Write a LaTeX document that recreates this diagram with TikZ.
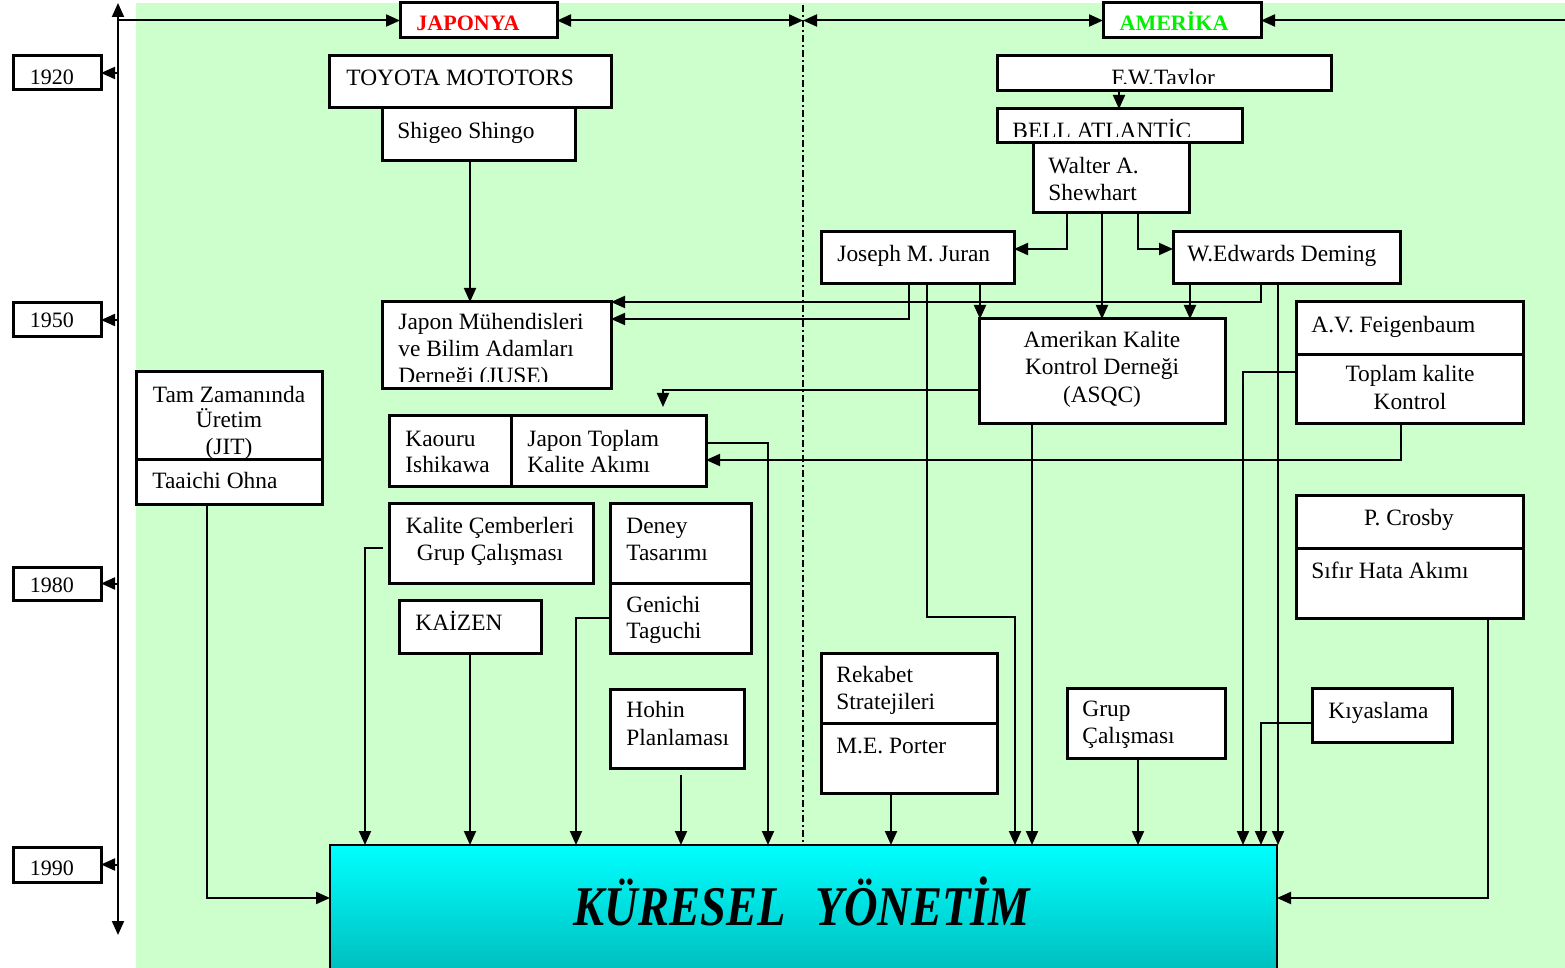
\documentclass[tikz,border=0pt]{standalone}
\usepackage{fontspec}
\setmainfont{Liberation Serif}
\usepackage{graphicx}
\usetikzlibrary{arrows.meta,shadings}
\definecolor{bggreen}{RGB}{204,255,204}
\definecolor{kurtop}{RGB}{0,255,255}
\definecolor{kurbot}{RGB}{0,183,183}
\definecolor{japred}{RGB}{255,0,0}
\definecolor{amgreen}{RGB}{0,240,0}

% a white box given by its corners (x1,y1) and (x2,y2)
\newcommand\tlbox[5]{\node[box, minimum width={(#4-#2)*0.5pt}, minimum height={(#5-#3)*0.5pt}] (#1) at ({(#2+#4)/2},{(#3+#5)/2}) {};}

\begin{document}
\begin{tikzpicture}[x=0.5pt,y=-0.5pt,
  box/.style={draw, fill=white, line width=1.5pt, inner sep=0pt, outer sep=0pt},
  conn/.style={line width=1pt},
  arr/.style={conn, -{Triangle[length=7pt,width=6pt]}},
  dbl/.style={conn, {Triangle[length=7pt,width=6pt]}-{Triangle[length=7pt,width=6pt]}},
  txt/.style={inner sep=0pt, anchor=base west, font=\fontsize{11.7pt}{13.5pt}\selectfont},
  txtc/.style={txt, anchor=base},
  year/.style={inner sep=0pt, anchor=base, font=\fontsize{11pt}{13pt}\selectfont},
  head/.style={inner sep=0pt, anchor=base, font=\fontsize{11pt}{13pt}\selectfont\bfseries},
]
\useasboundingbox (0,0) rectangle (1565,968);
\clip (0,0) rectangle (1565,968);

% background
\fill[bggreen] (136,3) rectangle (1565,968);

% global result box
\node[draw, line width=1.2pt, top color=kurtop, bottom color=kurbot, inner sep=0pt, outer sep=0pt,
      minimum width={947*0.5pt}, minimum height={140*0.5pt}] (kures) at (803.5,915) {};

% boxes
\tlbox{y1920}{13}{56}{101}{90}
\tlbox{y1950}{13}{303}{101}{337}
\tlbox{y1980}{13}{567}{101}{600}
\tlbox{y1990}{13}{847}{101}{882}
\tlbox{japonya}{400}{3}{557}{38}
\tlbox{amerika}{1103}{3}{1261}{38}
\tlbox{toyota}{329}{56}{611}{108}
\tlbox{shigeo}{382}{108}{575}{161}
\tlbox{jmuh}{382}{302}{611}{389}
\tlbox{tam}{136}{372}{322}{460}
\tlbox{taaichi}{136}{460}{322}{504}
\tlbox{kaouru}{389}{416}{511}{486}
\tlbox{jtop}{511}{416}{706}{486}
\tlbox{kalcem}{389}{503}{593}{583}
\tlbox{deney}{610}{503}{751}{583}
\tlbox{genichi}{610}{583}{751}{653}
\tlbox{kaizen}{399}{600}{541}{653}
\tlbox{hohin}{610}{689}{744}{768}
\tlbox{taylor}{997}{56}{1331}{91}
\tlbox{bell}{997}{109}{1242}{143}
\tlbox{shew}{1033}{143}{1189}{213}
\tlbox{juran}{821}{232}{1014}{284}
\tlbox{deming}{1173}{232}{1400}{284}
\tlbox{asqc}{979}{319}{1225}{424}
\tlbox{feig}{1296}{302}{1523}{355}
\tlbox{tkk}{1296}{355}{1523}{424}
\tlbox{crosby}{1296}{495}{1523}{548}
\tlbox{sifir}{1296}{548}{1523}{618}
\tlbox{kiyas}{1312}{688}{1452}{742}
\tlbox{rekabet}{821}{653}{997}{723}
\tlbox{porter}{821}{723}{997}{793}
\tlbox{grup}{1067}{688}{1225}{758}

% time axis and header line
\coordinate (axtop) at (118,3);
\coordinate (axbot) at (118,935);
\coordinate (divtop) at (803,20.5);
\coordinate (divstart) at (803,5);
\coordinate (rightend) at (1565,20.5);
\draw[dbl] (axbot) -- (axtop);
\draw[arr] (axtop |- japonya.west) -- (japonya.west);
\draw[dbl] (japonya.east) -- (divtop);
\draw[dbl] (divtop) -- (amerika.west);
\draw[arr] (rightend) -- (amerika.east);
\draw[line width=1pt, dash pattern=on 3.5pt off 1.5pt on 1pt off 1.5pt] (divstart) -- (divstart |- kures.north);
\foreach \y in {y1920,y1950,y1980,y1990} \draw[arr] (axtop |- \y.east) -- (\y.east);

% connectors
\coordinate (kcout) at (383,548);
\coordinate (hohinout) at (681,775);
\coordinate (asqcdrop) at (663,407);
\draw[arr] (470,0 |- shigeo.south) -- (470,0 |- jmuh.north);
\draw[arr] (1119,0 |- taylor.south) -- (1119,0 |- bell.north);
\draw[arr] (1067,0 |- shew.south) |- (juran.east |- 0,249);
\draw[arr] (1102,0 |- shew.south) -- (1102,0 |- asqc.north);
\draw[arr] (1138,0 |- shew.south) |- (deming.west |- 0,249);
\draw[arr] (909,0 |- juran.south) |- (jmuh.east |- 0,319);
\draw[arr] (927,0 |- juran.south) |- (1015,617) -- (1015,0 |- kures.north);
\draw[arr] (980,0 |- juran.south) -- (980,0 |- asqc.north);
\draw[arr] (1190,0 |- deming.south) -- (1190,0 |- asqc.north);
\draw[arr] (1261,0 |- deming.south) |- (jmuh.north east);
\draw[arr] (1278,0 |- deming.south) -- (1278,0 |- kures.north);
\draw[arr] (asqc.west |- 0,390) -| (asqcdrop);
\draw[arr] (1032,0 |- asqc.south) -- (1032,0 |- kures.north);
\draw[arr] (tkk.west |- 0,372) -| (1243,0 |- kures.north);
\draw[arr] (1401,0 |- tkk.south) |- (jtop.east |- 0,460);
\draw[arr] (jtop.east |- 0,443) -| (768,0 |- kures.north);
\draw[arr] (207,0 |- taaichi.south) |- (kures.west |- 0,898);
\draw[arr] (kcout) -| (365,0 |- kures.north);
\draw[arr] (genichi.west |- 0,618) -| (576,0 |- kures.north);
\draw[arr] (470,0 |- kaizen.south) -- (470,0 |- kures.north);
\draw[arr] (hohinout) -- (hohinout |- kures.north);
\draw[arr] (891,0 |- porter.south) -- (891,0 |- kures.north);
\draw[arr] (1138,0 |- grup.south) -- (1138,0 |- kures.north);
\draw[arr] (1488,0 |- sifir.south) |- (kures.east |- 0,898);
\draw[arr] (kiyas.west |- 0,723) -| (1261,0 |- kures.north);

% year labels
\node[year] (t1920) at (52,85) {1920};
\node[year] (t1950) at (52,328) {1950};
\node[year] (t1980) at (52,592) {1980};
\node[year] (t1990) at (52,875) {1990};

% headers
\node[head, text=japred] (tjap) at (468,31) {JAPONYA};
\node[head, text=amgreen] (tam2) at (1174,31) {AMERİKA};

% Japanese side
\node[txt] (ttoyota) at (346,86) {TOYOTA MOTOTORS};
\node[txt] (tshigeo) at (397,139) {Shigeo Shingo};
\node[txt] (tjmuh1) at (398,330) {Japon Mühendisleri};
\node[txt] (tjmuh2) at (398,357) {ve Bilim Adamları};
\begin{scope}
  \clip (383,360) rectangle (611,382);
  \node[txt] (tjmuh3) at (398,384) {Derneği (JUSE)};
\end{scope}
\node[txtc] (ttam1) at (229,402) {Tam Zamanında};
\node[txtc] (ttam2) at (229,428) {Üretim};
\node[txtc] (ttam3) at (229,454) {(JIT)};
\node[txt] (ttaaichi) at (152,488) {Taaichi Ohna};
\node[txt] (tkaouru1) at (405,446) {Kaouru};
\node[txt] (tkaouru2) at (405,473) {Ishikawa};
\node[txt] (tjtop1) at (527,446) {Japon Toplam};
\node[txt] (tjtop2) at (527,473) {Kalite Akımı};
\node[txtc] (tkalcem1) at (490,533) {Kalite Çemberleri};
\node[txtc] (tkalcem2) at (490,560) {Grup Çalışması};
\node[txt] (tdeney1) at (626,533) {Deney};
\node[txt] (tdeney2) at (626,560) {Tasarımı};
\node[txt] (tgenichi1) at (626,612) {Genichi};
\node[txt] (tgenichi2) at (626,638) {Taguchi};
\node[txt] (tkaizen) at (415,630) {KAİZEN};
\node[txt] (thohin1) at (626,717) {Hohin};
\node[txt] (thohin2) at (626,745) {Planlaması};

% American side
\begin{scope}
  \clip (998,57) rectangle (1330,84);
  \node[txtc] (ttaylor) at (1163,86) {F.W.Taylor};
\end{scope}
\begin{scope}
  \clip (998,110) rectangle (1241,136.5);
  \node[txt] (tbell) at (1012,139) {BELL ATLANTİC};
\end{scope}
\node[txt] (tshew1) at (1048,174) {Walter A.};
\node[txt] (tshew2) at (1048,201) {Shewhart};
\node[txt] (tjuran) at (837,262) {Joseph M. Juran};
\node[txt] (tdeming) at (1187,262) {W.Edwards Deming};
\node[txtc] (tasqc1) at (1102,348) {Amerikan Kalite};
\node[txtc] (tasqc2) at (1102,375) {Kontrol Derneği};
\node[txtc] (tasqc3) at (1102,402) {(ASQC)};
\node[txt] (tfeig) at (1311,333) {A.V. Feigenbaum};
\node[txtc] (ttkk1) at (1410,382) {Toplam kalite};
\node[txtc] (ttkk2) at (1410,410) {Kontrol};
\node[txtc] (tcrosby) at (1409,525) {P. Crosby};
\node[txt] (tsifir) at (1311,578) {Sıfır Hata Akımı};
\node[txt] (trekabet1) at (836,682) {Rekabet};
\node[txt] (trekabet2) at (836,709) {Stratejileri};
\node[txt] (tporter) at (836,753) {M.E. Porter};
\node[txt] (tgrup1) at (1082,716) {Grup};
\node[txt] (tgrup2) at (1082,743) {Çalışması};
\node[txt] (tkiyas) at (1328,718) {Kıyaslama};

% title of the result box
\node[inner sep=0pt, anchor=base, font=\fontsize{28pt}{32pt}\selectfont\bfseries\itshape] (tkures) at (802,925)
  {\scalebox{0.83}[1]{KÜRESEL\hspace{18pt}YÖNETİM}};
\end{tikzpicture}
\end{document}
